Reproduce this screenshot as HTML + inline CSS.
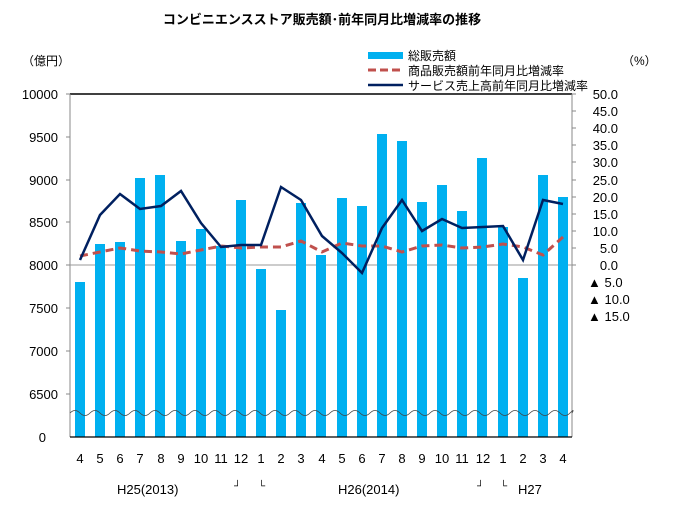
<!DOCTYPE html>
<html><head><meta charset="utf-8"><style>
html,body{margin:0;padding:0;background:#fff}
svg{display:block}
text{font-family:"Liberation Sans","Noto Sans CJK JP",sans-serif;fill:#000}
</style></head><body>
<svg width="673" height="522" viewBox="0 0 673 522">
<text x="322" y="24" font-size="13" font-weight="bold" text-anchor="middle">コンビニエンスストア販売額･前年同月比増減率の推移</text>
<text x="22" y="65" font-size="12">（億円）</text>
<text x="622" y="65" font-size="12">（%）</text>
<!-- legend -->
<rect x="368" y="52" width="35" height="7" fill="#00b0f0"/>
<text x="408" y="60" font-size="12">総販売額</text>
<line x1="368" y1="70" x2="403" y2="70" stroke="#c0504d" stroke-width="3" stroke-dasharray="8,4"/>
<text x="408" y="75" font-size="12">商品販売額前年同月比増減率</text>
<line x1="368" y1="85" x2="403" y2="85" stroke="#002060" stroke-width="2.5"/>
<text x="408" y="90" font-size="12">サービス売上高前年同月比増減率</text>
<!-- axes -->
<line x1="70" y1="94" x2="572" y2="94" stroke="#000" stroke-width="1.5"/>
<line x1="70" y1="94" x2="70" y2="437" stroke="#888"/>
<line x1="572" y1="94" x2="572" y2="437" stroke="#888"/>
<g stroke="#888">
<line x1="66" y1="94" x2="70" y2="94"/><line x1="66" y1="137" x2="70" y2="137"/><line x1="66" y1="180" x2="70" y2="180"/><line x1="66" y1="222" x2="70" y2="222"/><line x1="66" y1="265" x2="70" y2="265"/><line x1="66" y1="308" x2="70" y2="308"/><line x1="66" y1="351" x2="70" y2="351"/><line x1="66" y1="394" x2="70" y2="394"/>
<line x1="572" y1="94" x2="576" y2="94"/><line x1="572" y1="111" x2="576" y2="111"/><line x1="572" y1="128" x2="576" y2="128"/><line x1="572" y1="145" x2="576" y2="145"/><line x1="572" y1="162" x2="576" y2="162"/><line x1="572" y1="180" x2="576" y2="180"/><line x1="572" y1="197" x2="576" y2="197"/><line x1="572" y1="214" x2="576" y2="214"/><line x1="572" y1="231" x2="576" y2="231"/><line x1="572" y1="248" x2="576" y2="248"/><line x1="572" y1="265" x2="576" y2="265"/>
</g>
<line x1="70" y1="265" x2="572" y2="265" stroke="#999"/>
<g font-size="13" text-anchor="end">
<text x="58" y="99">10000</text><text x="58" y="142">9500</text><text x="58" y="185">9000</text><text x="58" y="227">8500</text><text x="58" y="270">8000</text><text x="58" y="313">7500</text><text x="58" y="356">7000</text><text x="58" y="399">6500</text><text x="46" y="442">0</text>
</g>
<g font-size="13" text-anchor="end">
<text x="618" y="99">50.0</text><text x="618" y="116">45.0</text><text x="618" y="133">40.0</text><text x="618" y="150">35.0</text><text x="618" y="167">30.0</text><text x="618" y="185">25.0</text><text x="618" y="202">20.0</text><text x="618" y="219">15.0</text><text x="618" y="236">10.0</text><text x="618" y="253">5.0</text><text x="618" y="270">0.0</text>
</g>
<g font-size="13">
<text x="588" y="287">▲ 5.0</text><text x="588" y="304">▲ 10.0</text><text x="588" y="321">▲ 15.0</text>
</g>
<!-- bars -->
<g fill="#00b0f0">
<rect x="75" y="282" width="10" height="155"/>
<rect x="95" y="244" width="10" height="193"/>
<rect x="115" y="242" width="10" height="195"/>
<rect x="135" y="178" width="10" height="259"/>
<rect x="155" y="175" width="10" height="262"/>
<rect x="176" y="241" width="10" height="196"/>
<rect x="196" y="229" width="10" height="208"/>
<rect x="216" y="246" width="10" height="191"/>
<rect x="236" y="200" width="10" height="237"/>
<rect x="256" y="269" width="10" height="168"/>
<rect x="276" y="310" width="10" height="127"/>
<rect x="296" y="203" width="10" height="234"/>
<rect x="316" y="255" width="10" height="182"/>
<rect x="337" y="198" width="10" height="239"/>
<rect x="357" y="206" width="10" height="231"/>
<rect x="377" y="134" width="10" height="303"/>
<rect x="397" y="141" width="10" height="296"/>
<rect x="417" y="202" width="10" height="235"/>
<rect x="437" y="185" width="10" height="252"/>
<rect x="457" y="211" width="10" height="226"/>
<rect x="477" y="158" width="10" height="279"/>
<rect x="498" y="227" width="10" height="210"/>
<rect x="518" y="278" width="10" height="159"/>
<rect x="538" y="175" width="10" height="262"/>
<rect x="558" y="197" width="10" height="240"/>
</g>
<!-- wave break -->
<path d="M70 413 q5 -5 10 0 t10 0 t10 0 t10 0 t10 0 t10 0 t10 0 t10 0 t10 0 t10 0 t10 0 t10 0 t10 0 t10 0 t10 0 t10 0 t10 0 t10 0 t10 0 t10 0 t10 0 t10 0 t10 0 t10 0 t10 0 t10 0 t10 0 t10 0 t10 0 t10 0 t10 0 t10 0 t10 0 t10 0 t10 0 t10 0 t10 0 t10 0 t10 0 t10 0 t10 0 t10 0 t10 0 t10 0 t10 0 t10 0 t10 0 t10 0 t10 0 t10 0 t2 0" fill="none" stroke="#444" stroke-width="0.8"/>
<line x1="70" y1="437" x2="572" y2="437" stroke="#000" stroke-width="1.2"/>
<!-- lines -->
<polyline fill="none" stroke="#c0504d" stroke-width="3" stroke-dasharray="8,5" points="80,256 100,252 120,248 140,251 161,252 181,254 201,250 221,246 241,248 261,247 281,247 301,241 322,252 342,243 362,246 382,246 402,252 422,246 442,245 462,248 483,247 503,244 523,247 543,255 563,237"/>
<polyline fill="none" stroke="#002060" stroke-width="2.5" points="80,260 100,215 120,194 140,209 161,206 181,191 201,223 221,247 241,245 261,245 281,187 301,200 322,236 342,253 362,273 382,228 402,200 422,231 442,219 462,228 483,227 503,226 523,260 543,200 563,204"/>
<!-- x labels -->
<g font-size="13" text-anchor="middle">
<text x="80" y="463">4</text><text x="100" y="463">5</text><text x="120" y="463">6</text><text x="140" y="463">7</text><text x="161" y="463">8</text><text x="181" y="463">9</text><text x="201" y="463">10</text><text x="221" y="463">11</text><text x="241" y="463">12</text><text x="261" y="463">1</text><text x="281" y="463">2</text><text x="301" y="463">3</text><text x="322" y="463">4</text><text x="342" y="463">5</text><text x="362" y="463">6</text><text x="382" y="463">7</text><text x="402" y="463">8</text><text x="422" y="463">9</text><text x="442" y="463">10</text><text x="462" y="463">11</text><text x="483" y="463">12</text><text x="503" y="463">1</text><text x="523" y="463">2</text><text x="543" y="463">3</text><text x="563" y="463">4</text>
</g>
<g font-size="13">
<text x="117" y="494">H25(2013)</text>
<text x="234" y="489" font-size="10">┘</text><text x="258" y="489" font-size="10">└</text>
<text x="338" y="494">H26(2014)</text>
<text x="477" y="489" font-size="10">┘</text><text x="500" y="489" font-size="10">└</text>
<text x="518" y="494">H27</text>
</g>
</svg>
</body></html>
